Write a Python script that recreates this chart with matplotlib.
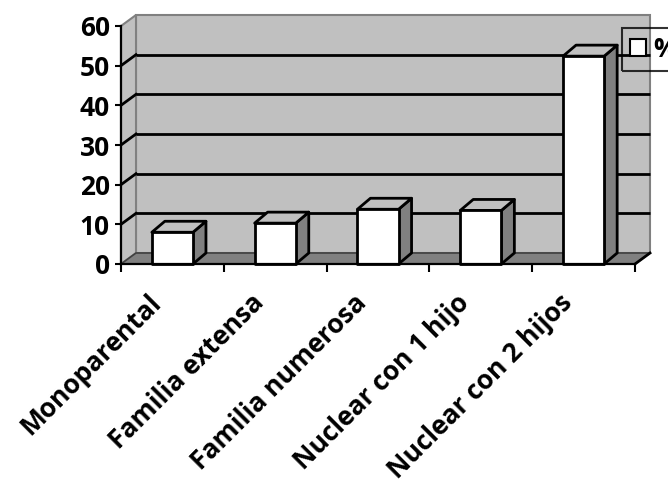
import matplotlib
matplotlib.use("Agg")
import matplotlib.pyplot as plt
from matplotlib.patches import Rectangle, Polygon, Patch
from matplotlib.transforms import ScaledTranslation

categories = ["Monoparental", "Familia extensa", "Familia numerosa",
              "Nuclear con 1 hijo", "Nuclear con 2 hijos"]
values = [8.0, 10.3, 13.8, 13.5, 52.4]
yticks = [0, 10, 20, 30, 40, 50, 60]
series_name = "%"

FONT = ["Open Sans", "DejaVu Sans"]
FS = 19
FSX = 19

W, H = 668, 479
fig = plt.figure(figsize=(W / 100, H / 100), dpi=100)
# front plane of the 3D box in pixels
x0p, x1p, y0p, y1p = 121, 635, 264, 26
ax = fig.add_axes([x0p / W, 1 - y0p / H, (x1p - x0p) / W, (y0p - y1p) / H])
n = len(categories)
ymax = yticks[-1]
ax.set_xlim(0, n)
ax.set_ylim(0, ymax)
ax.patch.set_visible(False)

# depth offsets (pixels -> data units)
pxx = n / (x1p - x0p)
pxy = ymax / (y0p - y1p)
DX, DY = 15 * pxx, 11 * pxy       # wall depth
BDX, BDY = 13 * pxx, 11 * pxy     # bar depth
BW = 0.4

WALL = "#c0c0c0"
DARK = "#808080"

# back wall
ax.add_patch(Rectangle((DX, DY), n, ymax, facecolor=WALL, edgecolor=DARK,
                       lw=1.5, zorder=1, clip_on=False))
# left wall
ax.add_patch(Polygon([(0, 0), (0, ymax), (DX, ymax + DY), (DX, DY)],
                     closed=True, facecolor=WALL, edgecolor=DARK, lw=1.5,
                     zorder=1, clip_on=False))
# floor
ax.add_patch(Polygon([(0, 0), (n, 0), (n + DX, DY), (DX, DY)], closed=True,
                     facecolor=DARK, edgecolor="#404040", lw=1.2, zorder=2,
                     clip_on=False))
# gridlines on back wall and left wall
for v in yticks[1:-1]:
    ax.plot([DX, n + DX], [v + DY, v + DY], color="black", lw=2,
            zorder=3, clip_on=False, solid_capstyle="butt")
    ax.plot([0, DX], [v, v + DY], color="black", lw=2, zorder=3,
            clip_on=False)
ax.plot([n, n + DX], [0, DY], color="black", lw=2, zorder=3, clip_on=False)

# bars
for i, v in enumerate(values):
    xl = i + 0.5 - BW / 2
    xr = xl + BW
    ax.add_patch(Polygon([(xr, 0), (xr, v), (xr + BDX, v + BDY), (xr + BDX, BDY)],
                         closed=True, facecolor=DARK, edgecolor="black",
                         lw=2, zorder=5, clip_on=False, joinstyle="round"))
    ax.add_patch(Polygon([(xl, v), (xr, v), (xr + BDX, v + BDY), (xl + BDX, v + BDY)],
                         closed=True, facecolor=WALL, edgecolor="black",
                         lw=2, zorder=5, clip_on=False, joinstyle="round"))
    ax.add_patch(Rectangle((xl, 0), BW, v, facecolor="white",
                           edgecolor="black", lw=2, zorder=6, clip_on=False,
                           joinstyle="round"))

# axes
for s in ["top", "right"]:
    ax.spines[s].set_visible(False)
for s in ["left", "bottom"]:
    ax.spines[s].set_linewidth(1.6)
    ax.spines[s].set_color("black")
    ax.spines[s].set_zorder(7)
ax.set_yticks(yticks)
ax.set_yticklabels([str(t) for t in yticks], fontfamily=FONT,
                   fontweight="bold", fontsize=FS)
ax.tick_params(axis="y", length=4, width=1.5, pad=4, direction="out")
ax.set_xticks(range(n + 1))
ax.set_xticklabels([])
ax.tick_params(axis="x", length=5.5, width=1.5, direction="out")

off = ScaledTranslation(-10 / 100, -40 / 100, fig.dpi_scale_trans)
for i, c in enumerate(categories):
    ax.text(i + 0.5, 0, c, transform=ax.transData + off, rotation=45,
            rotation_mode="anchor", ha="right", va="baseline",
            fontfamily=FONT, fontweight="bold", fontsize=FSX, clip_on=False)

# legend
leg = fig.legend(handles=[Patch(facecolor="white", edgecolor="black", lw=1.5)],
                 labels=[series_name], loc="upper left",
                 bbox_to_anchor=(622 / W, 1 - 28 / H), frameon=True,
                 fancybox=False, prop={"family": FONT, "weight": "bold",
                                       "size": FS},
                 handlelength=0.6, handleheight=0.6, handletextpad=0.3,
                 borderpad=0.3, borderaxespad=0)
leg.get_frame().set_facecolor("none")
leg.get_frame().set_edgecolor("black")
leg.get_frame().set_linewidth(1.5)

fig.savefig("out.png", dpi=100)
